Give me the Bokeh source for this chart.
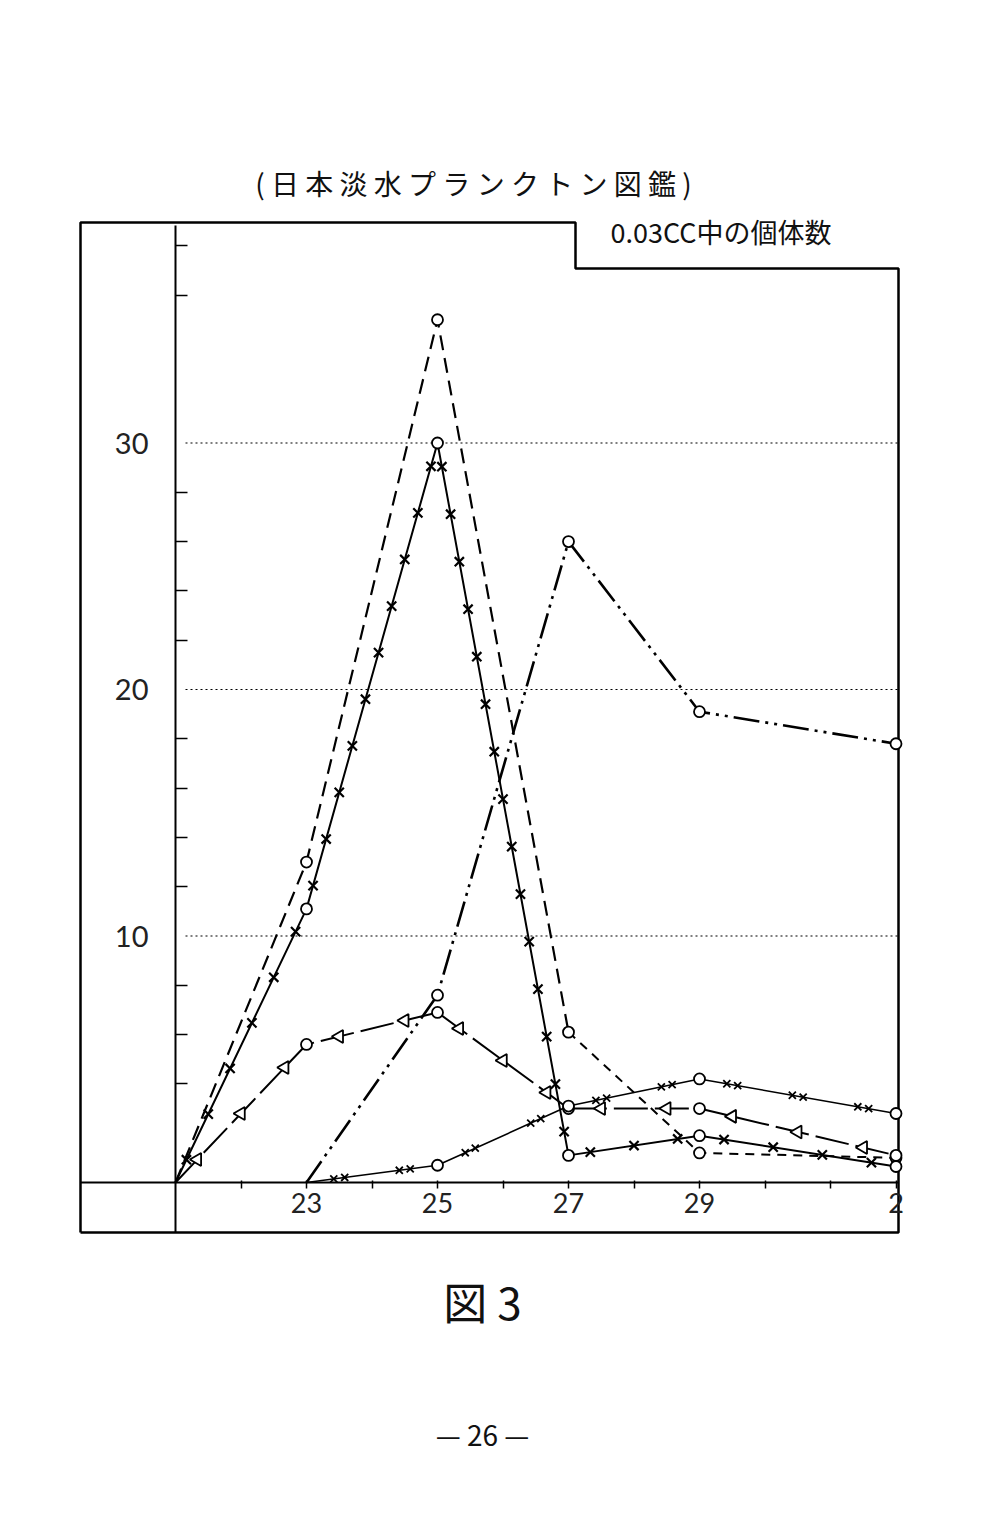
import math
from bokeh.plotting import figure
from bokeh.models import Range1d, FixedTicker
from bokeh.core.properties import value
from bokeh.embed import file_html
from bokeh.resources import INLINE

# ---------------- data ----------------
days = [21, 23, 25, 27, 29, 32]          # 32 = "2" of the next month
days_late = [23, 25, 27, 29, 32]
series_a = [0, 13.0, 35.0, 6.1, 1.2, 1.0]      # long dashed, circles
series_b = [0, 11.1, 30.0, 1.1, 1.9, 0.65]     # solid with x marks
series_c = [0, 7.6, 26.0, 19.1, 17.8]          # dash-dot-dot
series_d = [0, 5.6, 6.9, 3.0, 3.0, 1.1]        # solid/dash with triangles
series_e = [0, 0.7, 3.1, 4.2, 2.8]             # thin solid with paired x
x_tick_days = [23, 25, 27, 29, 32]
x_tick_labels = ["23", "25", "27", "29", "2"]
x_minor_days = [22, 24, 26, 28, 30, 31]
y_tick_values = [10, 20, 30]
y_minor_values = [4, 6, 8, 12, 14, 16, 18, 22, 24, 26, 28, 36, 38]
grid_levels = [10, 20, 30]

title_text = "( 日 本 淡 水 プ ラ ン ク ト ン 図 鑑 )"
unit_text = "0.03CC中の個体数"
fig_text = "図 3"
page_text = "— 26 —"

# ---------------- layout ----------------
W, H = 984, 1506
OFF = 0                        # figure's top-left corner in the photo
SX, SY = 65.5, 24.65           # px per day, px per unit
X0 = 21 - (175 - OFF) / SX
X1 = X0 + W / SX
Y1 = (1182 - OFF) / SY
Y0 = Y1 - H / SY


def dx(px):
    return X0 + (px - OFF) / SX


def dy(py):
    return Y1 - (py - OFF) / SY


p = figure(width=W, height=H, x_range=Range1d(X0, X1), y_range=Range1d(Y0, Y1),
           output_backend="svg", toolbar_location=None, min_border=0,
           outline_line_color=None, background_fill_color="white",
           border_fill_color="white")
p.grid.visible = False

BOX_L, BOX_R, BOX_T, BOX_B = dx(80), dx(898), dy(222), dy(1232)
NOTCH_X, NOTCH_Y = dx(575), dy(268)

xa = p.xaxis[0]
xa.fixed_location = 0
xa.bounds = (BOX_L, BOX_R)
xa.ticker = FixedTicker(ticks=x_tick_days, minor_ticks=x_minor_days)
xa.major_label_overrides = {d: lab for d, lab in zip(x_tick_days, x_tick_labels)}
xa.axis_line_width = 2
xa.major_tick_in = 2
xa.major_tick_out = 6
xa.minor_tick_in = 2
xa.minor_tick_out = 6
xa.major_tick_line_width = 1.5
xa.minor_tick_line_width = 1.5
xa.major_label_standoff = 4
xa.major_label_text_font = "Lato"
xa.major_label_text_font_size = "27px"
xa.major_label_text_color = "#222222"

ya = p.yaxis[0]
ya.fixed_location = 21
ya.bounds = (BOX_B, dy(225))
ya.ticker = FixedTicker(ticks=y_tick_values, minor_ticks=y_minor_values)
ya.axis_line_width = 2
ya.major_tick_in = 0
ya.major_tick_out = 0
ya.minor_tick_in = 12
ya.minor_tick_out = 0
ya.minor_tick_line_width = 1.5
ya.major_label_standoff = 27
ya.major_label_text_font = "Lato"
ya.major_label_text_font_size = "29px"
ya.major_label_text_color = "#222222"

# outer frame with notch
p.line([BOX_L, BOX_L, NOTCH_X, NOTCH_X, BOX_R, BOX_R, BOX_L],
       [BOX_B, BOX_T, BOX_T, NOTCH_Y, NOTCH_Y, BOX_B, BOX_B],
       line_color="black", line_width=2.5)

# dotted grid lines
p.segment(x0=[21 + 10 / SX] * len(grid_levels), y0=grid_levels,
          x1=[BOX_R] * len(grid_levels), y1=grid_levels,
          line_color="black", line_width=1.2, line_dash="2 3")


def along(xs, ys, spacing, pair_px=0.0):
    """points placed along a polyline (line-style decoration)"""
    ox, oy = [], []
    for i in range(len(xs) - 1):
        ddx = (xs[i + 1] - xs[i]) * SX
        ddy = (ys[i + 1] - ys[i]) * SY
        L = math.hypot(ddx, ddy)
        n = max(1, round(L / spacing))
        for k in range(n):
            t = (k + 0.5) / n
            ts = [t] if pair_px == 0 else [t - pair_px / 2 / L, t + pair_px / 2 / L]
            for tt in ts:
                ox.append(xs[i] + (xs[i + 1] - xs[i]) * tt)
                oy.append(ys[i] + (ys[i + 1] - ys[i]) * tt)
    return ox, oy


K = "black"
# series A: long dashes up to 27, shorter after
p.line(days[:4], series_a[:4], line_color=K, line_width=2.2, line_dash="15 8")
p.line(days[3:], series_a[3:], line_color=K, line_width=2.0, line_dash="9 7")

# series B: solid with x marks
p.line(days, series_b, line_color=K, line_width=2.0)
bx, by = along(days, series_b, 48)
p.scatter(bx, by, marker="x", size=13, line_color=K, line_width=2.2)

# series C: dash-dot-dot
p.line(days_late, series_c, line_color=K, line_width=2.6, line_dash="26 6 3 6 3 6")

# series D: long dashes with triangles
p.line(days, series_d, line_color=K, line_width=2.0, line_dash="34 7")
tx, ty = along(days, series_d, 62)
p.scatter(tx, ty, marker="triangle", size=13, line_color=K, line_width=1.8,
          fill_color="white", angle=math.pi / 2)

# series E: thin solid with paired x
p.line(days_late, series_e, line_color=K, line_width=1.6)
ex, ey = along(days_late, series_e, 70, pair_px=11)
p.scatter(ex, ey, marker="x", size=10, line_color=K, line_width=1.8)

# circles at the observed points
for xs, ys in [(days, series_a), (days, series_b), (days_late, series_c),
               (days, series_d), (days_late, series_e)]:
    p.scatter(xs[1:], ys[1:], marker="circle", size=11, line_color=K,
              line_width=1.8, fill_color="white")

# texts
jp = value("Noto Sans CJK JP")
p.text([dx(473)], [dy(182)], text=[title_text], text_font=jp, text_font_size="28px",
       text_align="center", text_baseline="middle", text_color="#111111")
p.text([dx(610)], [dy(231)], text=[unit_text], text_font=jp, text_font_size="27px",
       text_align="left", text_baseline="middle", text_color="#111111")
p.text([dx(482)], [dy(1300)], text=[fig_text], text_font=jp, text_font_size="44px",
       text_align="center", text_baseline="middle", text_color="#111111")
p.text([dx(482)], [dy(1433)], text=[page_text], text_font=jp, text_font_size="28px",
       text_align="center", text_baseline="middle", text_color="#111111")

open("out.html", "w").write(file_html(p, INLINE))
